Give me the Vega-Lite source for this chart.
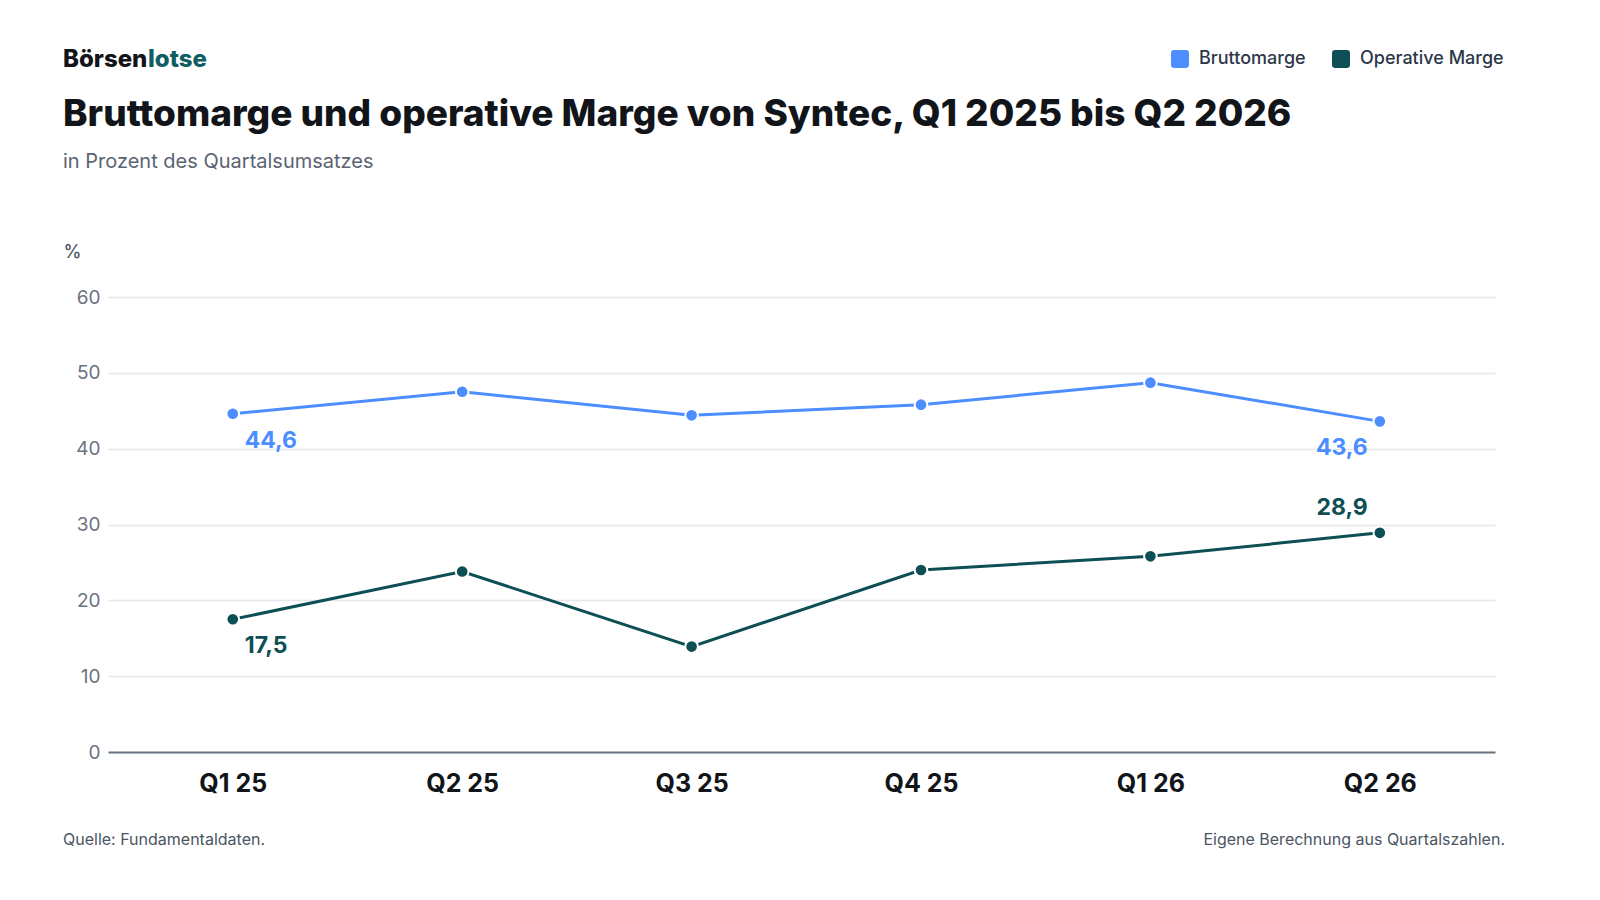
{
  "$schema": "https://vega.github.io/schema/vega-lite/v6.json",
  "width": 1387,
  "height": 455,
  "autosize": {"type": "none"},
  "padding": {"left": 108, "top": 297, "right": 105, "bottom": 148},
  "background": "white",
  "config": {
    "font": "Inter",
    "view": {"stroke": null},
    "locale": {"number": {"decimal": ",", "thousands": ".", "grouping": [3], "currency": ["", " €"]}}
  },
  "title": {
    "text": "Bruttomarge und operative Marge von Syntec, Q1 2025 bis Q2 2026",
    "subtitle": "in Prozent des Quartalsumsatzes",
    "anchor": "start",
    "frame": "group",
    "dx": -45,
    "offset": -125,
    "fontSize": 37,
    "fontWeight": 800,
    "color": "#111418",
    "subtitleFont": "Inter",
    "subtitleFontSize": 20,
    "subtitleColor": "#5b6472",
    "subtitlePadding": 18
  },
  "data": {
    "values": [
      {"quartal": "Q1 25", "serie": "Bruttomarge", "wert": 44.6},
      {"quartal": "Q2 25", "serie": "Bruttomarge", "wert": 47.5},
      {"quartal": "Q3 25", "serie": "Bruttomarge", "wert": 44.4},
      {"quartal": "Q4 25", "serie": "Bruttomarge", "wert": 45.8},
      {"quartal": "Q1 26", "serie": "Bruttomarge", "wert": 48.7},
      {"quartal": "Q2 26", "serie": "Bruttomarge", "wert": 43.6},
      {"quartal": "Q1 25", "serie": "Operative Marge", "wert": 17.5},
      {"quartal": "Q2 25", "serie": "Operative Marge", "wert": 23.8},
      {"quartal": "Q3 25", "serie": "Operative Marge", "wert": 13.9},
      {"quartal": "Q4 25", "serie": "Operative Marge", "wert": 24.0},
      {"quartal": "Q1 26", "serie": "Operative Marge", "wert": 25.8},
      {"quartal": "Q2 26", "serie": "Operative Marge", "wert": 28.9}
    ]
  },
  "encoding": {
    "x": {
      "field": "quartal",
      "type": "ordinal",
      "sort": null,
      "scale": {"type": "point", "padding": 0.523, "align": 0.52},
      "axis": {
        "title": null,
        "labelAngle": 0,
        "labelFontSize": 25,
        "labelFontWeight": 700,
        "labelColor": "#111418",
        "labelPadding": 19,
        "ticks": false,
        "domainColor": "#6b7280",
        "domainWidth": 2,
        "grid": false
      }
    },
    "y": {
      "field": "wert",
      "type": "quantitative",
      "scale": {"domain": [0, 60]},
      "axis": {
        "title": "%",
        "titleAngle": 0,
        "titleAlign": "left",
        "titleBaseline": "middle",
        "titleX": -45,
        "titleY": -45,
        "titleFontSize": 18,
        "titleFontWeight": 500,
        "titleColor": "#4b5563",
        "values": [0, 10, 20, 30, 40, 50, 60],
        "labelFontSize": 19,
        "labelColor": "#6b7280",
        "labelPadding": 8,
        "ticks": false,
        "domain": false,
        "gridColor": "#e5e7eb",
        "gridWidth": 1.5
      }
    }
  },
  "layer": [
    {
      "mark": {
        "type": "line",
        "strokeWidth": 3,
        "point": {"filled": true, "size": 160, "stroke": "white", "strokeWidth": 2, "opacity": 1}
      },
      "encoding": {
        "color": {
          "field": "serie",
          "type": "nominal",
          "scale": {"domain": ["Bruttomarge", "Operative Marge"], "range": ["#4c8dff", "#0d4f54"]},
          "legend": {
            "title": null,
            "orient": "none",
            "direction": "horizontal",
            "legendX": 1063,
            "legendY": -247,
            "symbolType": "M-0.65,-1H0.65Q1,-1 1,-0.65V0.65Q1,1 0.65,1H-0.65Q-1,1 -1,0.65V-0.65Q-1,-1 -0.65,-1Z",
            "symbolSize": 324,
            "symbolStrokeWidth": 0,
            "symbolOpacity": 1,
            "labelFontSize": 18,
            "labelFontWeight": 500,
            "labelColor": "#2d3748",
            "labelOffset": 10,
            "columnPadding": 26
          }
        }
      }
    },
    {
      "transform": [{"filter": "datum.quartal == 'Q1 25'"}],
      "mark": {"type": "text", "align": "left", "baseline": "middle", "dx": 12, "dy": 27, "fontSize": 23, "fontWeight": 700},
      "encoding": {
        "text": {"field": "wert", "type": "quantitative", "format": ".1f"},
        "color": {"field": "serie", "type": "nominal", "legend": null}
      }
    },
    {
      "transform": [{"filter": "datum.quartal == 'Q2 26' && datum.serie == 'Bruttomarge'"}],
      "mark": {"type": "text", "align": "right", "baseline": "middle", "dx": -12, "dy": 27, "fontSize": 23, "fontWeight": 700},
      "encoding": {
        "text": {"field": "wert", "type": "quantitative", "format": ".1f"},
        "color": {"field": "serie", "type": "nominal", "legend": null}
      }
    },
    {
      "transform": [{"filter": "datum.quartal == 'Q2 26' && datum.serie == 'Operative Marge'"}],
      "mark": {"type": "text", "align": "right", "baseline": "middle", "dx": -12, "dy": -25, "fontSize": 23, "fontWeight": 700},
      "encoding": {
        "text": {"field": "wert", "type": "quantitative", "format": ".1f"},
        "color": {"field": "serie", "type": "nominal", "legend": null}
      }
    },
    {
      "data": {"values": [{"teil": "Börsen"}]},
      "mark": {"type": "text", "align": "left", "baseline": "middle", "fontSize": 24, "fontWeight": 800, "color": "#111418"},
      "encoding": {"text": {"field": "teil"}, "x": {"value": -45}, "y": {"value": -237}}
    },
    {
      "data": {"values": [{"teil": "lotse"}]},
      "mark": {"type": "text", "align": "left", "baseline": "middle", "fontSize": 24, "fontWeight": 800, "color": "#115e62"},
      "encoding": {"text": {"field": "teil"}, "x": {"value": 40}, "y": {"value": -237}}
    },
    {
      "data": {"values": [{"notiz": "Quelle: Fundamentaldaten."}]},
      "mark": {"type": "text", "align": "left", "baseline": "middle", "fontSize": 16, "color": "#4b5563"},
      "encoding": {"text": {"field": "notiz"}, "x": {"value": -45}, "y": {"value": 543}}
    },
    {
      "data": {"values": [{"notiz": "Eigene Berechnung aus Quartalszahlen."}]},
      "mark": {"type": "text", "align": "right", "baseline": "middle", "fontSize": 16, "color": "#4b5563"},
      "encoding": {"text": {"field": "notiz"}, "x": {"value": 1397}, "y": {"value": 543}}
    }
  ]
}
